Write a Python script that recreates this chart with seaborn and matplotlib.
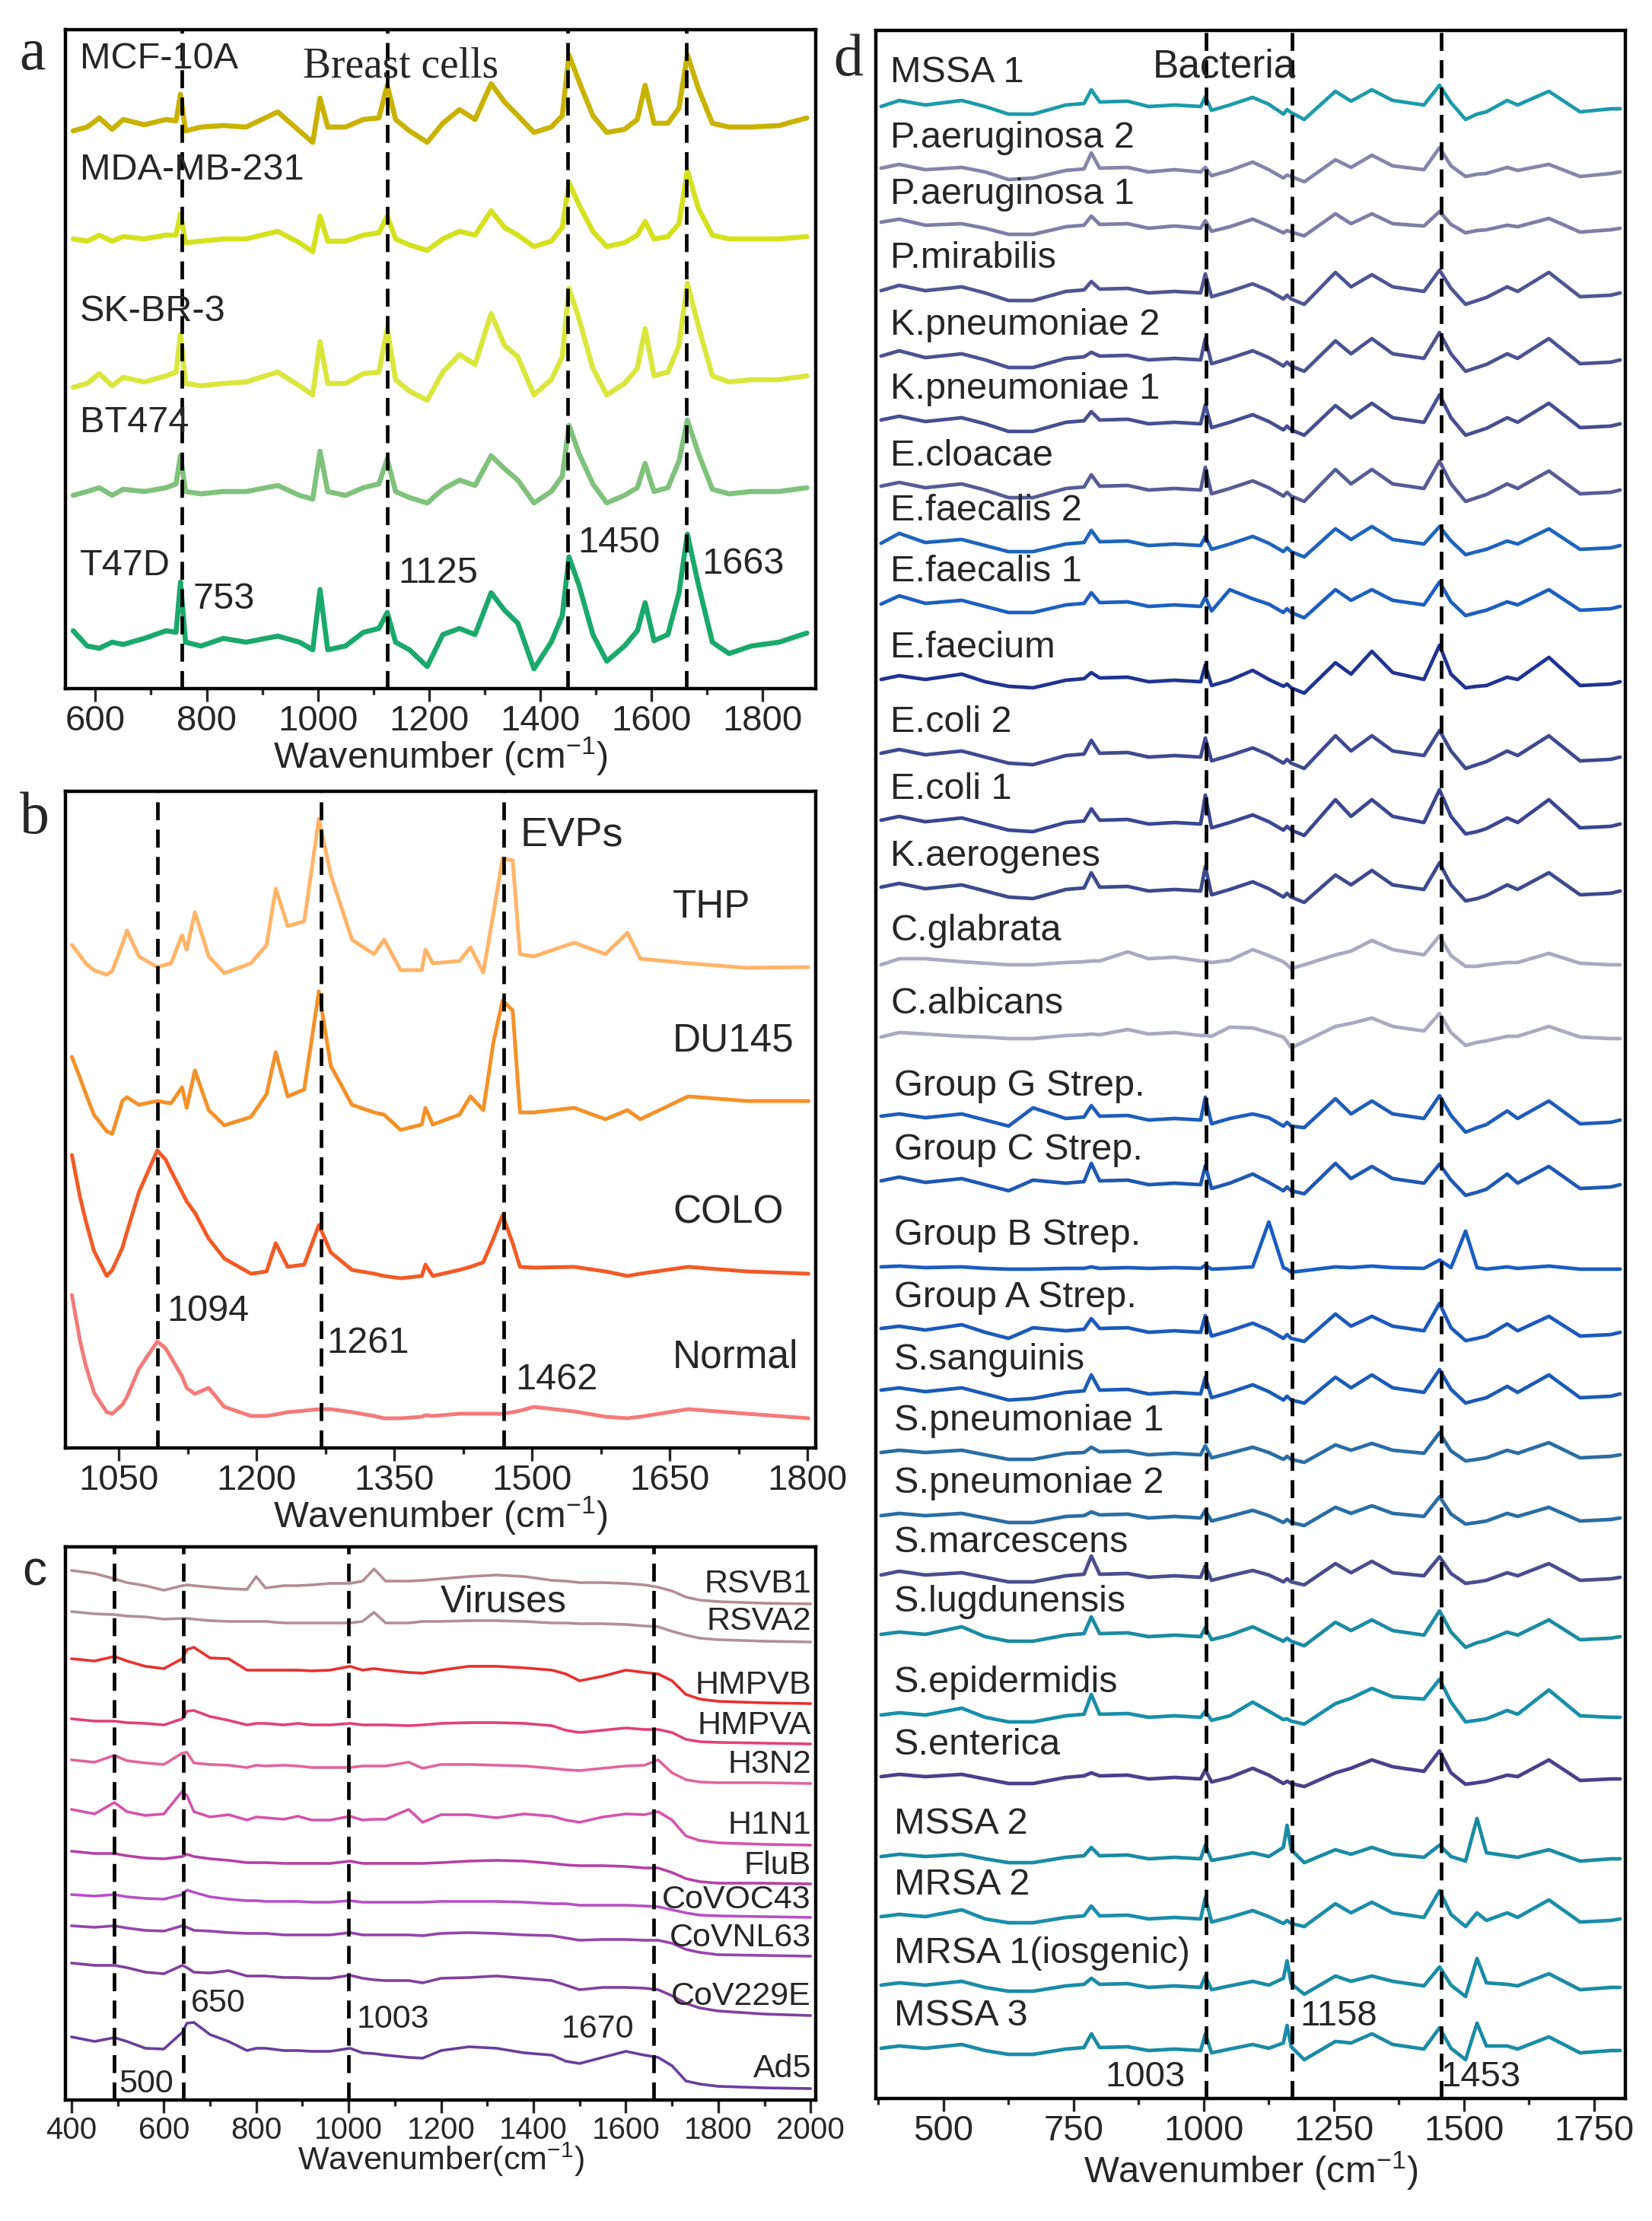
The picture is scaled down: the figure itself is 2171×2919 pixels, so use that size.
import numpy as np
import pandas as pd
import matplotlib
matplotlib.use("Agg")
import matplotlib.pyplot as plt
import seaborn as sns

sns.set_style("ticks")
plt.rcParams['font.family'] = ['Liberation Sans', 'DejaVu Sans']
plt.rcParams['mathtext.fontset'] = 'custom'
plt.rcParams['mathtext.rm'] = 'Liberation Sans'
plt.rcParams['mathtext.default'] = 'regular'

W, H = 2171, 2919

# ---------------- panel a : breast cells ----------------
a_wn = [560, 585, 607, 630, 650, 688, 727, 745, 753, 762, 790, 830, 871, 928, 967, 991, 1004, 1018,
        1050, 1082, 1110, 1125, 1140, 1165, 1197, 1225, 1255, 1283, 1312, 1336, 1360, 1389, 1420,
        1440, 1452, 1470, 1495, 1520, 1552, 1575, 1589, 1605, 1630, 1650, 1665, 1685, 1710, 1740,
        1780, 1830, 1880]
a_names = ["MCF-10A", "MDA-MB-231", "SK-BR-3", "BT474", "T47D"]
a_mcf10a = [-5, 0, 12, -3, 10, 3, 10, 8, 43, -5, 0, 2, 0, 20, -5, -20, 38, 0, 0, 10, 12, 55, 10, -5, -20,
            5, 23, 10, 57, 33, 15, -7, 0, 15, 95, 60, 15, -7, -3, 10, 55, 5, 5, 25, 95, 50, 5, 0, 0, 2, 12]
a_mda = [0, -3, 5, -3, 3, 0, 5, 5, 33, -5, -3, 0, 0, 10, -5, -17, 30, -3, -3, 5, 8, 30, 0, -8, -15,
         0, 10, 5, 37, 15, 5, -10, -3, 15, 74, 45, 10, -10, -5, 5, 23, 0, 3, 20, 90, 40, 5, 0, 0, 0, 3]
a_skbr3 = [-10, -5, 8, -8, 3, -3, 5, 10, 60, -5, -8, -5, -3, 10, -8, -20, 50, -5, -5, 8, 10, 67, 0, -15, -27,
           10, 33, 20, 87, 45, 30, -20, 0, 30, 120, 80, 15, -20, -5, 15, 67, 5, 10, 45, 127, 70, 5, -3, 0, 0, 5]
a_bt474 = [-5, 0, 5, -5, 3, 0, 5, 10, 47, 0, -3, 0, 0, 8, -5, -10, 53, 0, -5, 5, 10, 43, 0, -8, -15,
           3, 15, 8, 47, 30, 15, -15, 0, 20, 87, 50, 10, -15, -5, 5, 37, 0, 5, 40, 94, 50, 3, -3, 0, 0, 5]
a_t47d = [10, -10, -13, -5, -8, 0, 10, 8, 74, -5, -10, 0, -5, 3, -5, -15, 64, -15, -10, 8, 13, 34, -5, -15, -37,
          5, 13, 5, 60, 37, 20, -40, -5, 30, 107, 70, 5, -30, -10, 10, 47, -3, 5, 60, 137, 70, -5, -20, -10, -5, 7]
a_zero_y = [167, 314, 499, 646, 839]
a_colors = ["#c9b200", "#d5e11e", "#dbe63c", "#80c27c", "#1aa96b"]
a_lines = [755, 1125, 1449, 1663]
a_line_labels = ["753", "1125", "1450", "1663"]

# ---------------- panel b : EVPs ----------------
b_wn = [999, 1008, 1014, 1023, 1037, 1043, 1054, 1059, 1072, 1092, 1101, 1107, 1119, 1124, 1133, 1148,
        1165, 1194, 1211, 1221, 1234, 1252, 1268, 1281, 1304, 1328, 1339, 1357, 1380, 1384, 1392, 1421,
        1433, 1447, 1458, 1468, 1479, 1487, 1502, 1546, 1580, 1604, 1618, 1670, 1734, 1801]
b_names = ["THP", "DU145", "COLO", "Normal"]
b_thp = [29, 15, 5, -4, -10, -5, 30, 48, 14, 0, 3, 5, 42, 23, 72, 14, -8, 5, 29, 103, 54, 60, 195, 121,
         36, 17, 36, -4, -4, 23, 5, 8, 26, -7, 70, 143, 140, 17, 14, 32, 17, 45, 11, 5, -1, 0]
b_du145 = [58, 30, 10, -18, -40, -43, 0, 5, -5, 0, -2, -3, 18, -9, 40, -12, -32, -21, 9, 64, 6, 15, 144, 46,
           -5, -15, -18, -38, -31, -9, -31, -18, 6, -12, 77, 132, 119, -15, -15, -9, -24, -12, -24, 6, 0, 0]
b_colo = [156, 100, 70, 30, -3, 5, 34, 55, 107, 162, 150, 135, 107, 95, 80, 46, 20, 0, 3, 40, 9, 12, 64, 28,
          5, 0, -3, -6, -3, 12, -3, 5, 9, 15, 46, 77, 40, 9, 8, 9, 3, -3, 0, 9, 3, 0]
b_normal = [162, 101, 70, 34, 8, 6, 18, 28, 65, 101, 92, 80, 55, 40, 32, 40, 15, 3, 3, 5, 8, 10, 12, 12,
            8, 3, 0, 0, 2, 4, 3, 6, 6, 6, 6, 6, 8, 10, 15, 9, 2, 0, 2, 12, 6, 0]
b_zero_y = [1271, 1447, 1674, 1864]
b_colors = ["#ffb468", "#f39128", "#f25a26", "#f47a7a"]
b_lines = [1092, 1270, 1469]
b_line_labels = ["1094", "1261", "1462"]

# ---------------- panel c : viruses ----------------
c_wn = [400, 450, 493, 520, 560, 600, 640, 650, 665, 700, 740, 780, 800, 820, 860, 890, 920, 960, 1003,
        1030, 1055, 1080, 1130, 1160, 1200, 1260, 1320, 1380, 1440, 1470, 1500, 1550, 1600, 1640, 1670,
        1700, 1730, 1760, 1800, 1900, 2000]
c_names = ["RSVB1", "RSVA2", "HMPVB", "HMPVA", "H3N2", "H1N1", "FluB", "CoVOC43", "CoVNL63", "CoV229E", "Ad5"]
c_rsvb1 = [44, 40, 33, 28, 24, 18, 24, 25, 24, 22, 20, 19, 36, 21, 24, 24, 25, 27, 27, 30, 46, 30, 30, 31,
           33, 36, 38, 36, 31, 30, 28, 28, 27, 25, 22, 17, 9, 5, 3, 1, 0]
c_rsva2 = [40, 37, 36, 34, 33, 30, 31, 31, 30, 28, 27, 27, 27, 27, 25, 25, 25, 25, 25, 27, 39, 25, 25, 27,
           27, 28, 28, 27, 25, 25, 24, 24, 23, 21, 20, 14, 9, 5, 3, 1, 0]
c_hmpvb = [59, 56, 62, 56, 49, 46, 59, 71, 74, 60, 59, 44, 44, 44, 44, 44, 43, 44, 49, 44, 46, 44, 41, 40,
           44, 49, 49, 47, 44, 39, 30, 36, 44, 41, 39, 30, 12, 6, 3, 1, 0]
c_hmpva = [33, 30, 30, 28, 27, 25, 33, 43, 44, 36, 31, 25, 27, 27, 25, 27, 25, 25, 27, 25, 25, 25, 24, 25,
           27, 28, 28, 27, 24, 18, 15, 18, 21, 19, 19, 15, 6, 3, 2, 1, 0]
c_h3n2 = [31, 28, 37, 30, 27, 25, 40, 41, 27, 25, 24, 21, 24, 23, 24, 23, 21, 21, 21, 23, 23, 23, 28, 20,
          25, 25, 24, 23, 20, 18, 17, 20, 23, 24, 31, 14, 5, 2, 1, 1, 0]
c_h1n1 = [47, 41, 56, 44, 39, 41, 71, 65, 44, 37, 40, 33, 37, 36, 34, 38, 33, 33, 38, 33, 34, 34, 47, 30,
          40, 40, 36, 41, 38, 33, 30, 37, 41, 40, 44, 33, 12, 6, 3, 1, 0]
c_flub = [43, 40, 40, 37, 34, 33, 36, 39, 36, 33, 31, 28, 28, 28, 27, 27, 27, 27, 30, 27, 27, 27, 27, 27,
          28, 30, 31, 30, 27, 25, 24, 24, 23, 21, 21, 15, 7, 3, 1, 1, 0]
c_covoc43 = [30, 28, 30, 27, 25, 24, 30, 36, 33, 27, 24, 22, 22, 21, 21, 21, 20, 20, 22, 20, 20, 20, 20, 20,
             21, 21, 21, 20, 18, 18, 16, 16, 16, 15, 14, 10, 6, 3, 2, 1, 0]
c_covnl63 = [40, 38, 40, 37, 34, 33, 40, 38, 34, 33, 31, 30, 30, 30, 28, 28, 28, 28, 31, 28, 28, 28, 28, 27,
             30, 31, 30, 28, 27, 24, 21, 22, 22, 21, 21, 17, 9, 5, 2, 1, 0]
c_cov229e = [69, 66, 66, 63, 57, 55, 66, 63, 57, 56, 59, 52, 52, 52, 50, 50, 49, 49, 53, 49, 47, 46, 46, 43,
             49, 50, 52, 49, 46, 40, 34, 37, 37, 36, 34, 26, 16, 10, 6, 2, 0]
c_ad5 = [68, 62, 67, 62, 53, 52, 74, 86, 87, 71, 62, 50, 53, 53, 50, 50, 49, 49, 53, 47, 46, 44, 41, 40,
         50, 55, 53, 47, 44, 36, 33, 41, 49, 44, 41, 30, 10, 6, 3, 1, 0]
c_zero_y = [2108, 2158, 2239, 2292, 2344, 2425, 2476, 2520, 2571, 2649, 2745]
c_colors = ["#b48c94", "#b28e9c", "#e8302e", "#e3407a", "#e2649a", "#d652ac", "#b540a4", "#b650c6",
            "#9444ac", "#823f9e", "#6b3d9b"]
c_label_y = [2082, 2131, 2215, 2268, 2319, 2399, 2452, 2497, 2547, 2624, 2719]
c_lines = [492, 642, 1000, 1660]

# ---------------- panel d : bacteria ----------------
d_wn = [380, 415, 465, 535, 580, 625, 672, 735, 770, 784, 800, 854, 894, 944, 994, 1003, 1015, 1050, 1094,
        1125, 1153, 1160, 1168, 1193, 1253, 1283, 1323, 1363, 1423, 1453, 1475, 1503, 1525, 1543, 1583,
        1603, 1663, 1723, 1782, 1800]
d_names = ["MSSA 1", "P.aeruginosa 2", "P.aeruginosa 1", "P.mirabilis", "K.pneumoniae 2", "K.pneumoniae 1",
           "E.cloacae", "E.faecalis 2", "E.faecalis 1", "E.faecium", "E.coli 2", "E.coli 1", "K.aerogenes",
           "C.glabrata", "C.albicans", "Group G Strep.", "Group C Strep.", "Group B Strep.", "Group A Strep.",
           "S.sanguinis", "S.pneumoniae 1", "S.pneumoniae 2", "S.marcescens", "S.lugdunensis",
           "S.epidermidis", "S.enterica", "MSSA 2", "MRSA 2", "MRSA 1(iosgenic)", "MSSA 3"]
d_mssa1 = [0, 8, 2, 8, 0, -10, -10, 2, 4, 22, 6, 7, 0, 2, 0, 13, -5, 2, 12, 3, -10, -4, -8, -17, 20, 7, 22, 8, 2, 28, 5, -17, -10, -7, 8, 2, 20, -7, -3, -3]
d_paer2 = [5, 10, 3, 6, 0, -10, -8, 2, 4, 25, 5, 6, 0, 3, 0, 6, -5, 2, 13, 3, -8, -4, -6, -13, 16, 6, 22, 8, 3, 32, 8, -6, -3, -2, 6, 2, 10, -6, -2, 0]
d_paer1 = [8, 12, 4, 6, 0, -8, -8, 2, 4, 16, 5, 6, 0, 3, 0, 10, -4, 2, 12, 3, -6, -3, -5, -10, 19, 6, 19, 6, 3, 22, 5, -6, -3, -2, 4, 2, 13, -5, -2, 0]
d_pmir = [3, 10, 3, 8, 0, -10, -10, 2, 4, 15, 5, 6, 0, 2, 0, 25, -5, 2, 12, 3, -8, -3, -8, -15, 27, 8, 24, 8, 2, 30, 6, -15, -10, -6, 8, 2, 27, -5, -3, 0]
d_kpn2 = [5, 12, 3, 8, 0, -10, -10, 2, 4, 10, 5, 6, 0, 2, 0, 28, -5, 2, 12, 3, -8, -3, -8, -15, 25, 8, 28, 8, 2, 36, 8, -15, -10, -6, 8, 2, 28, -5, -3, 0]
d_kpn1 = [5, 10, 3, 8, 0, -10, -10, 2, 4, 16, 5, 6, 0, 2, 0, 25, -5, 2, 12, 3, -8, -3, -8, -15, 24, 8, 27, 8, 2, 38, 8, -15, -10, -6, 8, 2, 27, -5, -3, 0]
d_eclo = [5, 10, 3, 8, 0, -10, -10, 2, 4, 20, 5, 6, 0, 2, 0, 30, -5, 2, 12, 3, -8, -3, -8, -15, 27, 8, 27, 8, 2, 38, 8, -15, -10, -6, 8, 2, 25, -5, -3, 0]
d_efs2 = [3, 16, 4, 8, 0, -8, -8, 2, 4, 20, 5, 6, 0, 2, 0, 12, -5, 2, 12, 3, -8, -3, -8, -15, 22, 8, 25, 8, 2, 25, 6, -12, -8, -5, 6, 2, 22, -5, -3, 0]
d_efs1 = [3, 14, 4, 8, 0, -8, -8, 2, 4, 18, 5, 6, 0, 2, 0, 12, -6, 22, 10, 3, -8, -3, -8, -15, 22, 8, 22, 8, 2, 32, 6, -12, -8, -5, 6, 2, 22, -5, -3, 0]
d_efm = [3, 8, 3, 10, 0, -6, -8, 2, 4, 12, 5, 6, 0, 2, 0, 22, -5, 2, 15, 3, -6, -3, -8, -15, 25, 10, 40, 12, 3, 48, 10, -8, -6, -5, 6, 3, 32, -5, -3, 0]
d_ecoli2 = [5, 10, 3, 8, 0, -8, -10, 2, 4, 22, 5, 6, 0, 2, 0, 25, -5, 2, 12, 3, -8, -3, -8, -15, 28, 8, 28, 8, 2, 35, 8, -15, -10, -6, 8, 2, 28, -5, -3, 0]
d_ecoli1 = [5, 10, 3, 8, 0, -8, -10, 2, 4, 20, 5, 6, 0, 2, 0, 38, -5, 2, 12, 3, -8, -3, -8, -15, 32, 10, 32, 10, 2, 45, 10, -13, -10, -6, 8, 2, 32, -5, -3, 0]
d_kaer = [5, 10, 3, 8, 0, -8, -10, 2, 4, 24, 5, 6, 0, 2, 0, 32, -5, 2, 12, 3, -8, -3, -8, -15, 21, 8, 27, 8, 2, 37, 8, -13, -10, -6, 8, 2, 24, -5, -3, 0]
d_cglab = [0, 8, 8, 4, 2, 0, 0, 3, 4, 5, 5, 17, 8, 10, 5, 5, 3, 6, 20, 12, 4, 0, -5, 0, 13, 18, 32, 20, 13, 38, 12, -2, -2, 0, 3, 3, 15, 2, 0, 0]
d_calb = [2, 8, 6, 3, 2, 0, 0, 4, 5, 6, 5, 12, 6, 8, 4, 4, 3, 15, 14, 8, 2, -4, -12, -4, 16, 20, 27, 16, 10, 33, 8, -9, -5, -3, 3, 3, 16, 2, 0, 0]
d_grpg = [5, 8, 3, 8, 0, -8, 16, 2, 4, 19, 5, 6, 0, 2, 0, 30, -5, 2, 8, 3, -8, -3, -8, -10, 28, 8, 25, 8, 2, 32, 6, -16, -10, -6, 12, 2, 25, -5, -3, 0]
d_grpc = [5, 10, 3, 8, 0, -8, 6, 2, 4, 28, 5, 6, 0, 2, 0, 25, -5, 2, 14, 3, -8, -3, -8, -12, 28, 8, 24, 8, 2, 27, 6, -14, -10, -6, 14, 2, 24, -5, -3, 0]
d_grpb = [3, 4, 2, 3, 1, 0, 0, 1, 1, 3, 1, 2, 1, 2, 1, 5, 0, 1, 3, 62, 2, 0, -4, -2, 3, 2, 4, 2, 1, 12, 2, 50, 2, 0, 3, 1, 4, 0, 0, 0]
d_grpa = [5, 8, 3, 10, 0, -8, 6, 2, 4, 18, 5, 6, 0, 2, 0, 22, -5, 2, 12, 3, -8, -3, -8, -12, 24, 8, 21, 8, 2, 38, 6, -11, -8, -5, 11, 2, 21, -5, -3, 0]
d_ssang = [5, 8, 3, 8, 0, -8, -6, 2, 4, 25, 5, 6, 0, 2, 0, 22, -5, 2, 12, 3, -8, -3, -8, -12, 22, 8, 25, 8, 2, 32, 6, -12, -8, -5, 10, 2, 25, -5, -3, 0]
d_spn1 = [3, 6, 3, 6, 0, -6, -6, 2, 3, 10, 4, 5, 0, 2, 0, 12, -4, 2, 10, 3, -6, -2, -6, -10, 13, 6, 15, 6, 2, 29, 5, -8, -6, -4, 6, 2, 16, -4, -2, 0]
d_spn2 = [3, 6, 3, 6, 0, -6, -6, 2, 3, 8, 4, 5, 0, 2, 0, 10, -4, 2, 10, 3, -6, -2, -6, -10, 14, 6, 16, 6, 2, 28, 5, -8, -6, -4, 6, 2, 14, -4, -2, 0]
d_smarc = [3, 8, 3, 6, 0, -6, -6, 2, 4, 28, 4, 5, 0, 2, 0, 15, -4, 2, 9, 3, -6, -2, -6, -10, 18, 6, 21, 6, 2, 27, 5, -8, -6, -4, 6, 2, 18, -4, -2, 0]
d_slug = [3, 6, 3, 13, 0, -6, -6, 2, 4, 26, 4, 5, 0, 2, 0, 12, -4, 2, 13, 3, -6, -2, -6, -12, 19, 8, 22, 8, 2, 34, 6, -14, -8, -5, 6, 2, 22, -4, -2, 0]
d_sepi = [3, 6, 3, 12, 0, -6, -6, 2, 4, 30, 4, 5, 0, 2, 0, 8, -4, 2, 20, 8, -3, -2, -5, -9, 18, 25, 38, 27, 24, 50, 20, -6, -4, -2, 9, 4, 36, 2, 0, 0]
d_sent = [3, 6, 3, 6, 0, -6, -6, 2, 4, 8, 4, 5, 0, 2, 0, 12, -4, 2, 14, 5, -6, -3, -6, -10, 8, 14, 25, 16, 10, 37, 8, -7, -5, -3, 5, 3, 25, -2, 0, 0]
d_mssa2 = [3, 6, 3, 6, 0, -5, -5, 2, 4, 15, 4, 5, 0, 2, 0, 18, -2, 2, 8, 3, 15, 44, 12, -5, 12, 6, 15, 6, 2, 18, 3, -3, 53, 8, 4, 2, 12, -3, 0, 0]
d_mrsa2 = [3, 6, 3, 12, 0, -5, -5, 2, 4, 17, 4, 5, 0, 2, 0, 28, -4, 2, 11, 3, -6, -2, -6, -10, 20, 8, 22, 8, 2, 37, 6, -10, 8, -2, 8, 2, 25, -4, -2, 0]
d_mrsa1 = [3, 6, 3, 8, 0, -5, -5, 2, 4, 12, 4, 5, 0, 2, 0, 15, -3, 2, 8, 3, 12, 35, 5, -9, 15, 8, 15, 8, 2, 27, 3, -12, 38, 6, 4, 2, 18, -3, 0, 0]
d_mssa3 = [3, 6, 3, 8, 0, -5, -5, 2, 4, 22, 4, 5, 0, 2, 0, 22, -3, 2, 8, 3, 10, 33, 5, -12, 12, 10, 22, 8, 2, 30, 3, -12, 36, 6, 6, 2, 18, -3, 0, 0]
d_zero_y = [140, 226, 300, 385, 473, 557, 644, 717, 797, 896, 995, 1083, 1171, 1268, 1365, 1472, 1557, 1668,
            1751, 1832, 1912, 1995, 2073, 2151, 2257, 2338, 2443, 2522, 2612, 2695]
d_colors = ["#1b9aaa", "#8585ab", "#7d7da6", "#4f5592", "#4a5291", "#454f90", "#575c96", "#1e64bb", "#1c5fc0",
            "#1f3392", "#3f4990", "#3a4690", "#3c4a8d", "#a9a9c1", "#a9a9c1", "#1f5cba", "#1e58b2", "#1a5dc2",
            "#1b59bb", "#1b5bb7", "#2a6da3", "#2a6da3", "#4a4d8d", "#1a8aa2", "#178fa9", "#4c3f8a", "#1a8ba3",
            "#1a8da9", "#1a8ba6", "#1a8ba6"]
d_lines = [1004, 1170, 1456]


fig = plt.figure(figsize=(W / 100, H / 100), dpi=100)


def px_axes(left, top, right, bottom):
    return fig.add_axes([left / W, 1 - bottom / H, (right - left) / W, (bottom - top) / H])


def ftext(x, y, s, size, ha="left", **kw):
    fig.text(x / W, 1 - y / H, s, fontsize=size, ha=ha, va="center", **kw)


def draw_spectra(ax, wn, names, series, zero_y, bottom_px, colors, lw):
    rows = []
    for name, vals, z in zip(names, series, zero_y):
        off = bottom_px - z
        for x, v in zip(wn, vals):
            rows.append((name, x, v + off))
    df = pd.DataFrame(rows, columns=["name", "wn", "y"])
    sns.lineplot(data=df, x="wn", y="y", hue="name", hue_order=names,
                 palette=dict(zip(names, colors)), estimator=None, sort=False,
                 legend=False, linewidth=lw, ax=ax)


def style(ax, xlim, ylim, major, minor, tick_fs, xlabel, xl_fs, labelpad):
    ax.set_xlim(xlim)
    ax.set_ylim(ylim)
    ax.set_yticks([])
    ax.set_xticks(major)
    ax.set_xticks(minor, minor=True)
    ax.tick_params(axis="x", which="major", length=12, width=2.4, direction="out",
                   labelsize=tick_fs, pad=3)
    ax.tick_params(axis="x", which="minor", length=6, width=2.4, direction="out")
    for s in ax.spines.values():
        s.set_visible(True)
        s.set_linewidth(3.2)
        s.set_color("black")
    ax.set_xlabel(xlabel, fontsize=xl_fs, labelpad=labelpad)
    ax.set_ylabel("")


def dashed(ax, xs):
    for x in xs:
        ax.axvline(x, color="black", lw=3.4, ls=(0, (5, 2.6)), zorder=5)


# ---- a ----
ax_a = px_axes(86, 39, 1072, 905)
draw_spectra(ax_a, a_wn, a_names, [a_mcf10a, a_mda, a_skbr3, a_bt474, a_t47d],
             a_zero_y, 905, a_colors, 4.8)
dashed(ax_a, a_lines)
style(ax_a, (546, 1896), (0, 866), range(600, 1801, 200), range(700, 1900, 200), 34,
      "Wavenumber (cm$^{-1}$)", 35, -2)
for name, y in zip(a_names, [77, 224, 409, 556, 743]):
    ftext(105, y, name, 35)
for lab, (x, y) in zip(a_line_labels, [(253, 787), (523, 753), (759, 713), (922, 742)]):
    ftext(x, y, lab, 35)
ftext(398, 88, "Breast cells", 40, family="Liberation Serif")
ftext(42, 72, "a", 56, ha="center", family="Liberation Serif")

# ---- b ----
ax_b = px_axes(86, 1040, 1072, 1903)
draw_spectra(ax_b, b_wn, b_names, [b_thp, b_du145, b_colo, b_normal],
             b_zero_y, 1903, b_colors, 3.6)
dashed(ax_b, b_lines)
style(ax_b, (992, 1809), (0, 863), range(1050, 1801, 150), range(1125, 1800, 150), 34,
      "Wavenumber (cm$^{-1}$)", 35, -2)
for name, y in zip(b_names, [1193, 1368, 1594, 1784]):
    ftext(884, y, name, 37)
for lab, (x, y) in zip(b_line_labels, [(219, 1723), (429, 1766), (677, 1813)]):
    ftext(x, y, lab, 35)
ftext(684, 1098, "EVPs", 39)
ftext(45, 1076, "b", 56, ha="center", family="Liberation Serif")

# ---- c ----
ax_c = px_axes(86, 2033, 1072, 2760)
draw_spectra(ax_c, c_wn, c_names,
             [c_rsvb1, c_rsva2, c_hmpvb, c_hmpva, c_h3n2, c_h1n1, c_flub, c_covoc43, c_covnl63, c_cov229e, c_ad5],
             c_zero_y, 2760, c_colors, 2.6)
dashed(ax_c, c_lines)
style(ax_c, (387, 2011), (0, 727), range(400, 2001, 200), range(500, 2000, 200), 29,
      "Wavenumber(cm$^{-1}$)", 31, -4)
for name, y in zip(c_names, c_label_y):
    ftext(1066, y, name, 31, ha="right")
ftext(579, 2106, "Viruses", 36)
for lab, (x, y) in zip(["650", "1003", "1670", "500"], [(251, 2633), (469, 2654), (738, 2667), (156, 2739)]):
    ftext(x, y, lab, 31)
ftext(45, 2066, "c", 46, ha="center")

# ---- d ----
ax_d = px_axes(1151, 40, 2136, 2758)
d_series = [d_mssa1, d_paer2, d_paer1, d_pmir, d_kpn2, d_kpn1, d_eclo, d_efs2, d_efs1, d_efm, d_ecoli2,
            d_ecoli1, d_kaer, d_cglab, d_calb, d_grpg, d_grpc, d_grpb, d_grpa, d_ssang, d_spn1, d_spn2,
            d_smarc, d_slug, d_sepi, d_sent, d_mssa2, d_mrsa2, d_mrsa1, d_mssa3]
draw_spectra(ax_d, d_wn, d_names, d_series, d_zero_y, 2758, d_colors, 3.4)
dashed(ax_d, d_lines)
style(ax_d, (370, 1810), (0, 2718), range(500, 1751, 250), range(375, 1800, 250), 34,
      "Wavenumber (cm$^{-1}$)", 35, 2)
for i, (name, z) in enumerate(zip(d_names, d_zero_y)):
    ax_d.text(398 if i < 15 else 405, 2758 - z + 45, name, fontsize=35, va="center", ha="left")
ftext(1515, 88, "Bacteria", 37)
ftext(1708, 2650, "1158", 34)
ftext(1452, 2730, "1003", 34)
ftext(1893, 2730, "1453", 34)
ftext(1115, 80, "d", 56, ha="center", family="Liberation Serif")

fig.savefig("out.png", dpi=100)
